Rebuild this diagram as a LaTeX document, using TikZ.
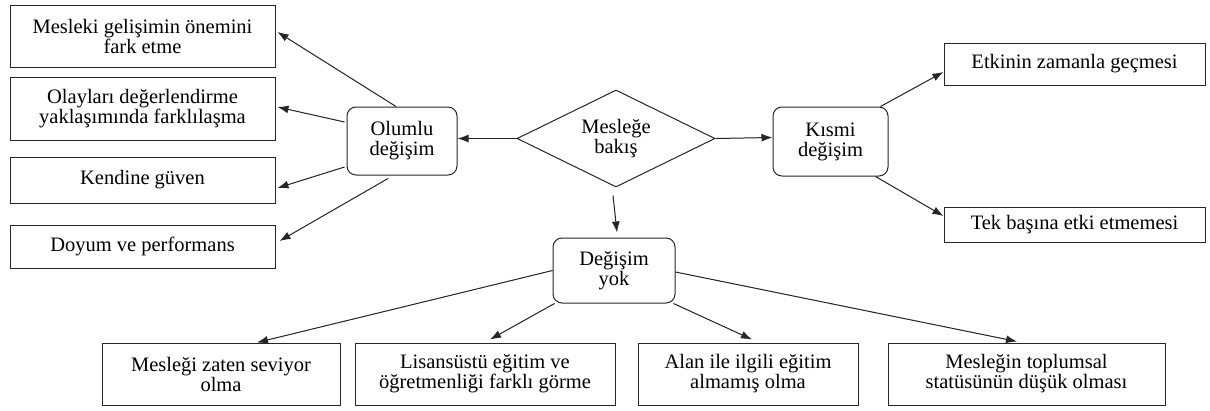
\documentclass[tikz,border=0pt]{standalone}
\usepackage{fontspec}
\setmainfont{Liberation Serif}
\usetikzlibrary{shapes.geometric,arrows.meta}
\tikzset{
  box/.style={draw=black!85, line width=1pt, align=center, inner sep=0pt,
    font=\fontsize{20.5}{20}\selectfont},
  rbox/.style={box, rounded corners=9pt},
  arr/.style={-{Latex[length=11pt,width=8pt]}, line width=1pt, draw=black!85, fill=black!85},
}
\begin{document}
\begin{tikzpicture}[x=1pt,y=-1pt]
\useasboundingbox (0,0) rectangle (1210,410);
% left column
\node[box, minimum width=265pt, minimum height=62pt] (m1) at (142.5,36) {Mesleki gelişimin önemini\\fark etme};
\node[box, minimum width=265pt, minimum height=63pt] (m2) at (142.5,108.5) {Olayları değerlendirme\\yaklaşımında farklılaşma};
\node[box, minimum width=265pt, minimum height=46pt] (m3) at (142.5,180) {Kendine güven};
\node[box, minimum width=265pt, minimum height=43pt] (m4) at (142.5,246.5) {Doyum ve performans};
% centre
\node[rbox, minimum width=110pt, minimum height=68pt] (ol) at (402,141) {Olumlu\\değişim};
\node[box, diamond, aspect=2, minimum width=198pt, minimum height=97pt] (d) at (616,138.5) {Mesleğe\\bakış};
\node[rbox, minimum width=115pt, minimum height=69pt] (ks) at (830.5,141.5) {Kısmi\\değişim};
\node[rbox, minimum width=122pt, minimum height=65pt] (dy) at (614,270.5) {Değişim\\yok};
% right column
\node[box, minimum width=261pt, minimum height=42pt] (e1) at (1074.5,64) {Etkinin zamanla geçmesi};
\node[box, minimum width=261pt, minimum height=35pt] (e2) at (1074.5,224.5) {Tek başına etki etmemesi};
% bottom row
\node[box, minimum width=238pt, minimum height=62pt] (b1) at (221,374) {Mesleği zaten seviyor\\olma};
\node[box, minimum width=260pt, minimum height=62pt] (b2) at (485,374) {Lisansüstü eğitim ve\\öğretmenliği farklı görme};
\node[box, minimum width=220pt, minimum height=62pt] (b3) at (748,374) {Alan ile ilgili eğitim\\almamış olma};
\node[box, minimum width=277pt, minimum height=62pt] (b4) at (1026.5,374) {Mesleğin toplumsal\\statüsünün düşük olması};
% connectors
\draw[arr] ([xshift=-6pt]ol.north) -- ([xshift=2pt,yshift=4pt]m1.east);
\draw[arr] ([xshift=-2pt,yshift=19pt]ol.west) -- ([xshift=2pt,yshift=1.5pt]m2.east);
\draw[arr] ([xshift=-2pt,yshift=-26pt]ol.west) -- ([xshift=2pt,yshift=-8pt]m3.east);
\draw[arr] ([xshift=-14pt,yshift=-3pt]ol.south) -- ([xshift=4pt,yshift=5.5pt]m4.east);
\draw[arr] (d.west) -- (d.west -| ol.east);
\draw[arr] (d.east) -- ([yshift=4pt]ks.west);
\draw[arr] ([xshift=-3pt,yshift=-8pt]d.south) -- ([xshift=3pt,yshift=5pt]dy.north);
\draw[arr] ([xshift=-8pt]ks.north east) -- ([yshift=-8pt]e1.west);
\draw[arr] ([xshift=-13pt]ks.south east) -- ([yshift=8.5pt]e2.west);
\draw[arr] (dy.west) -- ([xshift=36pt]b1.north);
\draw[arr] ([xshift=2pt]dy.south west) -- ([xshift=5pt,yshift=3pt]b2.north);
\draw[arr] ([xshift=-2pt]dy.south east) -- ([xshift=4pt,yshift=3pt]b3.north);
\draw[arr] ([yshift=-1.5pt]dy.east) -- ([xshift=-9.5pt,yshift=1pt]b4.north);
\end{tikzpicture}
\end{document}
